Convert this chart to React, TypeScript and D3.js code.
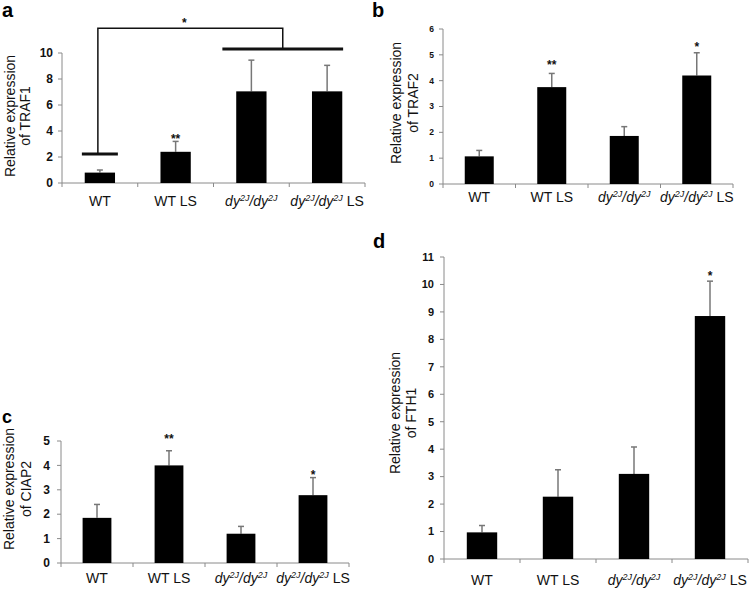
import React from "react";
import * as d3 from "d3";

const categories = ["WT", "WT LS", "dy2J/dy2J", "dy2J/dy2J LS"];

const traf1Mean = [0.8, 2.4, 7.05, 7.05];
const traf1Err = [0.2, 0.8, 2.4, 2.0];
const traf1Sig = ["", "**", "", ""];
const traf1SigAt = [0, 3.6, 0, 0];
const traf1Ticks = [0, 2, 4, 6, 8, 10];

const traf2Mean = [1.07, 3.75, 1.86, 4.2];
const traf2Err = [0.23, 0.53, 0.36, 0.88];
const traf2Sig = ["", "**", "", "*"];
const traf2SigAt = [0, 4.72, 0, 5.42];
const traf2Ticks = [0, 1, 2, 3, 4, 5, 6];

const ciap2Mean = [1.85, 4.0, 1.2, 2.78];
const ciap2Err = [0.55, 0.6, 0.3, 0.72];
const ciap2Sig = ["", "**", "", "*"];
const ciap2SigAt = [0, 5.2, 0, 3.73];
const ciap2Ticks = [0, 1, 2, 3, 4, 5];

const fth1Mean = [0.97, 2.27, 3.1, 8.85];
const fth1Err = [0.25, 0.98, 0.98, 1.27];
const fth1Sig = ["", "", "", "*"];
const fth1SigAt = [0, 0, 0, 10.42];
const fth1Ticks = [0, 1, 2, 3, 4, 5, 6, 7, 8, 9, 10, 11];

// bracket in panel a (data units)
const traf1LowBarAt = 2.23;
const traf1HighBarAt = 10.3;
const traf1BracketTop = 11.9;

const FONT = "Arial, 'Liberation Sans', Helvetica, sans-serif";
const AXIS = "#8a8a8a";
const ERR = "#777";

function XLabel({ name, x, y }: { name: string; x: number; y: number }) {
  if (name.startsWith("dy")) {
    const ls = name.endsWith("LS");
    return (
      <text x={x} y={y} textAnchor="middle" fontSize={14} fontFamily={FONT} fill="#111">
        <tspan fontStyle="italic">dy</tspan>
        <tspan fontStyle="italic" fontSize={9} dy={-5}>2J</tspan>
        <tspan fontStyle="italic" dy={5}>/dy</tspan>
        <tspan fontStyle="italic" fontSize={9} dy={-5}>2J</tspan>
        {ls ? <tspan dy={5}> LS</tspan> : <tspan dy={5}></tspan>}
      </text>
    );
  }
  return (
    <text x={x} y={y} textAnchor="middle" fontSize={14} fontFamily={FONT} fill="#111">
      {name}
    </text>
  );
}

type PanelProps = {
  mean: number[];
  err: number[];
  sig: string[];
  sigAt: number[];
  ticks: number[];
  x0: number;
  x1: number;
  y0: number;
  y1: number;
  tickFont: number;
  tickGap: number;
  gene: string;
  lab1X: number;
  lab2X: number;
  labCY: number;
  xLabelY: number;
  letter: string;
  letterX: number;
  letterY: number;
  letterSize: number;
  extra?: (x: d3.ScaleBand<string>, y: d3.ScaleLinear<number, number>) => React.ReactNode;
};

function Panel(p: PanelProps) {
  const x = d3
    .scaleBand<string>()
    .domain(categories)
    .range([p.x0, p.x1])
    .paddingInner(0.6)
    .paddingOuter(0.3);
  const yMax = p.ticks[p.ticks.length - 1];
  const y = d3.scaleLinear().domain([0, yMax]).range([p.y0, p.y1]);
  const step = x.step();
  const bw = x.bandwidth();
  return (
    <g>
      <text x={p.letterX} y={p.letterY} fontSize={p.letterSize} fontWeight="bold" fontFamily={FONT} fill="#000">
        {p.letter}
      </text>
      {/* y label */}
      <text
        transform={`translate(${p.lab1X},${p.labCY}) rotate(-90)`}
        textAnchor="middle"
        fontSize={14}
        fontFamily={FONT}
        fill="#111"
      >
        Relative expression
      </text>
      <text
        transform={`translate(${p.lab2X},${p.labCY}) rotate(-90)`}
        textAnchor="middle"
        fontSize={14}
        fontFamily={FONT}
        fill="#111"
      >
        {`of ${p.gene}`}
      </text>
      {/* y axis */}
      <line x1={p.x0} x2={p.x0} y1={y(0)} y2={y(yMax)} stroke={AXIS} strokeWidth={1} />
      {p.ticks.map((t) => (
        <g key={t}>
          <line x1={p.x0 - 4} x2={p.x0} y1={y(t)} y2={y(t)} stroke={AXIS} strokeWidth={1} />
          <text
            x={p.x0 - p.tickGap}
            y={y(t)}
            dy="0.35em"
            textAnchor="end"
            fontSize={p.tickFont}
            fontWeight="bold"
            fontFamily={FONT}
            fill="#111"
          >
            {t}
          </text>
        </g>
      ))}
      {/* x axis */}
      <line x1={p.x0} x2={p.x1} y1={y(0)} y2={y(0)} stroke={AXIS} strokeWidth={1} />
      {d3.range(categories.length + 1).map((i) => (
        <line key={i} x1={p.x0 + i * step} x2={p.x0 + i * step} y1={y(0)} y2={y(0) + 4} stroke={AXIS} strokeWidth={1} />
      ))}
      {/* bars */}
      {categories.map((c, i) => {
        const bx = x(c)!;
        const cx = bx + bw / 2;
        const top = y(p.mean[i] + p.err[i]);
        return (
          <g key={c}>
            <line x1={cx} x2={cx} y1={y(p.mean[i])} y2={top} stroke={ERR} strokeWidth={1.5} />
            <line x1={cx - 3} x2={cx + 3} y1={top} y2={top} stroke={ERR} strokeWidth={1.5} />
            <rect x={bx} y={y(p.mean[i])} width={bw} height={y(0) - y(p.mean[i])} fill="#000" />
            {p.sig[i] ? (
              <text
                x={cx}
                y={y(p.sigAt[i]) + 7}
                textAnchor="middle"
                fontSize={12}
                fontWeight="bold"
                fontFamily={FONT}
                fill="#111"
              >
                {p.sig[i]}
              </text>
            ) : null}
            <XLabel name={c} x={cx} y={p.xLabelY} />
          </g>
        );
      })}
      {p.extra ? p.extra(x, y) : null}
    </g>
  );
}

export default function App() {
  return (
    <svg width={751} height={590} style={{ position: "absolute", left: 0, top: 0, background: "#fff" }}>
      <rect x={0} y={0} width={751} height={590} fill="#fff" />
      <Panel
        mean={traf1Mean}
        err={traf1Err}
        sig={traf1Sig}
        sigAt={traf1SigAt}
        ticks={traf1Ticks}
        x0={62}
        x1={365}
        y0={183}
        y1={53}
        tickFont={12}
        tickGap={9}
        gene="TRAF1"
        lab1X={15}
        lab2X={30}
        labCY={116}
        xLabelY={206}
        letter="a"
        letterX={2}
        letterY={17}
        letterSize={20}
        extra={(x, y) => {
          const bw = x.bandwidth();
          const c0 = x(categories[0])! + bw / 2;
          const c2 = x(categories[2])! + bw / 2;
          const c3 = x(categories[3])! + bw / 2;
          const lowL = c0 - 18;
          const lowR = c0 + 18;
          const hiL = c2 - 29;
          const hiR = c3 + 16;
          const lx = (lowL + lowR) / 2 - 2;
          const rx = (hiL + hiR) / 2;
          return (
            <g>
              <line x1={lowL} x2={lowR} y1={y(traf1LowBarAt)} y2={y(traf1LowBarAt)} stroke="#111" strokeWidth={3} />
              <line x1={hiL} x2={hiR} y1={y(traf1HighBarAt)} y2={y(traf1HighBarAt)} stroke="#111" strokeWidth={3} />
              <polyline
                points={`${lx},${y(traf1LowBarAt)} ${lx},${y(traf1BracketTop)} ${rx},${y(traf1BracketTop)} ${rx},${y(traf1HighBarAt)}`}
                fill="none"
                stroke="#111"
                strokeWidth={1.5}
              />
              <text
                x={(lx + rx) / 2 - 6}
                y={y(traf1BracketTop) - 7 + 7}
                dy={-1}
                textAnchor="middle"
                fontSize={12}
                fontWeight="bold"
                fontFamily={FONT}
                fill="#111"
              >
                *
              </text>
            </g>
          );
        }}
      />
      <Panel
        mean={traf2Mean}
        err={traf2Err}
        sig={traf2Sig}
        sigAt={traf2SigAt}
        ticks={traf2Ticks}
        x0={443}
        x1={733}
        y0={184}
        y1={29}
        tickFont={8.5}
        tickGap={9}
        gene="TRAF2"
        lab1X={401}
        lab2X={418}
        labCY={103}
        xLabelY={202}
        letter="b"
        letterX={372}
        letterY={17}
        letterSize={20}
      />
      <Panel
        mean={ciap2Mean}
        err={ciap2Err}
        sig={ciap2Sig}
        sigAt={ciap2SigAt}
        ticks={ciap2Ticks}
        x0={61}
        x1={349}
        y0={563}
        y1={441}
        tickFont={12}
        tickGap={11}
        gene="CIAP2"
        lab1X={14}
        lab2X={31}
        labCY={489}
        xLabelY={583}
        letter="c"
        letterX={2}
        letterY={423}
        letterSize={18}
      />
      <Panel
        mean={fth1Mean}
        err={fth1Err}
        sig={fth1Sig}
        sigAt={fth1SigAt}
        ticks={fth1Ticks}
        x0={444}
        x1={748}
        y0={559}
        y1={257}
        tickFont={11}
        tickGap={10}
        gene="FTH1"
        lab1X={400}
        lab2X={416}
        labCY={413}
        xLabelY={585}
        letter="d"
        letterX={373}
        letterY={248}
        letterSize={20}
      />
    </svg>
  );
}
